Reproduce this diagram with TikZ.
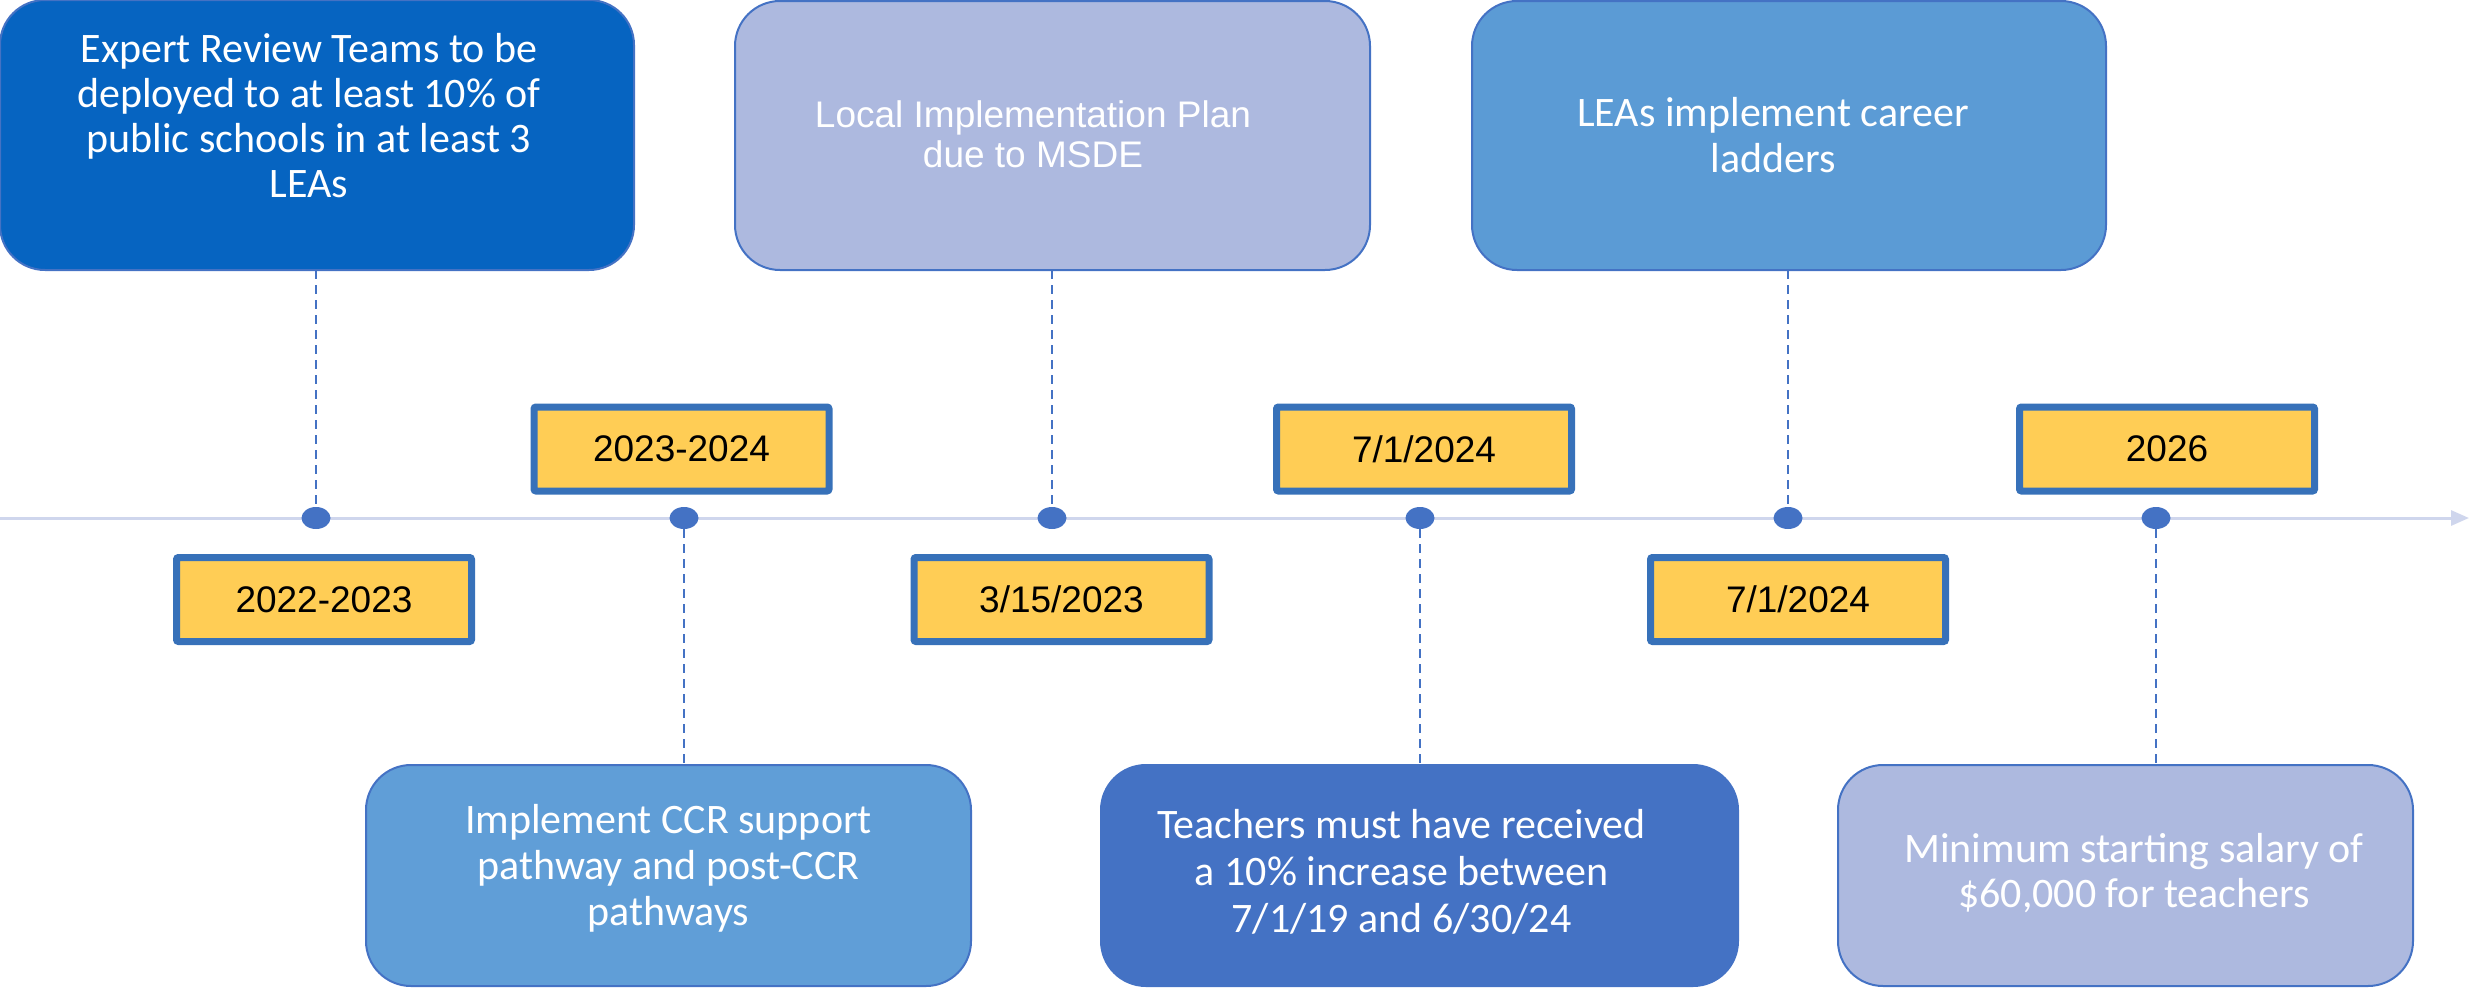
\documentclass[tikz,border=0pt]{standalone}
\usepackage{fontspec}
\setmainfont{Carlito}
\newfontfamily\arialf{Liberation Sans}
\usetikzlibrary{shapes.geometric,arrows.meta}
\definecolor{ervblue}{RGB}{6,100,193}
\definecolor{lav}{RGB}{173,185,223}
\definecolor{midblue}{RGB}{91,155,213}
\definecolor{midblueb}{RGB}{96,158,215}
\definecolor{royal}{RGB}{68,114,196}
\definecolor{edgeblue}{RGB}{68,114,196}
\definecolor{datebord}{RGB}{55,113,185}
\definecolor{dateyellow}{RGB}{255,205,85}
\definecolor{tlcol}{RGB}{207,214,237}
\definecolor{dotblue}{RGB}{68,114,196}
\tikzset{
  evbox/.style={draw=edgeblue, line width=2pt, rounded corners=45pt, inner sep=0pt, outer sep=0pt},
  evtext/.style={text=white, align=center, inner sep=0pt},
  datebox/.style={draw=datebord, fill=dateyellow, line width=7pt, rounded corners=2pt,
    minimum width=295pt, minimum height=84pt, inner sep=0pt,
    font=\arialf\fontsize{37}{44}\selectfont, text=black},
  tick/.style={ellipse, fill=dotblue, minimum width=29pt, minimum height=22pt, inner sep=0pt},
  guide/.style={draw=dotblue, line width=2pt, dash pattern=on 9pt off 6pt},
  timeline/.style={draw=tlcol, line width=3pt, -{Triangle[length=18pt,width=15pt]}}
}
\begin{document}
\begin{tikzpicture}[x=1pt,y=-1pt]
\useasboundingbox (0,0) rectangle (2469,988);
% timeline
\coordinate (tlstart) at (0,518);
\coordinate (tlend) at (2469,518);
\draw[timeline] (tlstart) -- (tlend);
% dots
\node[tick] (d1) at (316,518) {};
\node[tick] (d2) at (684,518) {};
\node[tick] (d3) at (1052,518) {};
\node[tick] (d4) at (1420,518) {};
\node[tick] (d5) at (1788,518) {};
\node[tick] (d6) at (2156,518) {};
% event boxes
\node[evbox, fill=ervblue, minimum width=634pt, minimum height=270pt] (b1) at (317,135) {};
\node[evbox, fill=lav, minimum width=635pt, minimum height=269pt] (b2) at (1052.5,135.5) {};
\node[evbox, fill=midblue, minimum width=634pt, minimum height=269pt] (b3) at (1789,135.5) {};
\node[evbox, fill=midblueb, minimum width=605pt, minimum height=221pt] (b4) at (668.5,875.5) {};
\node[evbox, fill=royal, minimum width=637pt, minimum height=221pt] (b5) at (1419.5,875.5) {};
\node[evbox, fill=lav, minimum width=575pt, minimum height=221pt] (b6) at (2125.5,875.5) {};
% guides
\draw[guide] (d1 |- b1.south) -- (d1.north);
\draw[guide] (d3 |- b2.south) -- (d3.north);
\draw[guide] (d5 |- b3.south) -- (d5.north);
\draw[guide] (d2.south) -- (d2 |- b4.north);
\draw[guide] (d4.south) -- (d4 |- b5.north);
\draw[guide] (d6.south) -- (d6 |- b6.north);
% event texts
\node[evtext, font=\fontsize{42}{45.3}\selectfont] (t1) at (309,120.9)
  {\strut Expert Review Teams to be\\\strut deployed to at least 10\% of\\\strut public schools in at least 3\\\strut LEAs};
\node[evtext, font=\arialf\fontsize{37}{40}\selectfont] (t2) at (1033,139)
  {\strut Local Implementation Plan\\\strut due to MSDE};
\node[evtext, font=\fontsize{42}{46}\selectfont] (t3) at (1773,139.8)
  {\strut LEAs implement career\\\strut ladders};
\node[evtext, font=\fontsize{42}{46}\selectfont] (t4) at (668.5,869.8)
  {\strut Implement CCR support\\\strut pathway and post-CCR\\\strut pathways};
\node[evtext, font=\fontsize{42}{47}\selectfont] (t5) at (1401.5,875.6)
  {\strut Teachers must have received\\\strut a 10\% increase between\\\strut 7/1/19 and 6/30/24};
\node[evtext, font=\fontsize{42}{45}\selectfont] (t6) at (2134,875.5)
  {\strut Minimum starting salary of\\\strut \$60,000 for teachers};
% date boxes
\node[datebox] (y1) at (324,599.5) {2022-2023};
\node[datebox] (y2) at (681.5,449) {2023-2024};
\node[datebox] (y3) at (1061.5,599.5) {3/15/2023};
\node[datebox] (y4) at (1424,449) {7/1/2024};
\node[datebox] (y5) at (1798,599.5) {7/1/2024};
\node[datebox] (y6) at (2167,449) {2026};
\end{tikzpicture}
\end{document}
